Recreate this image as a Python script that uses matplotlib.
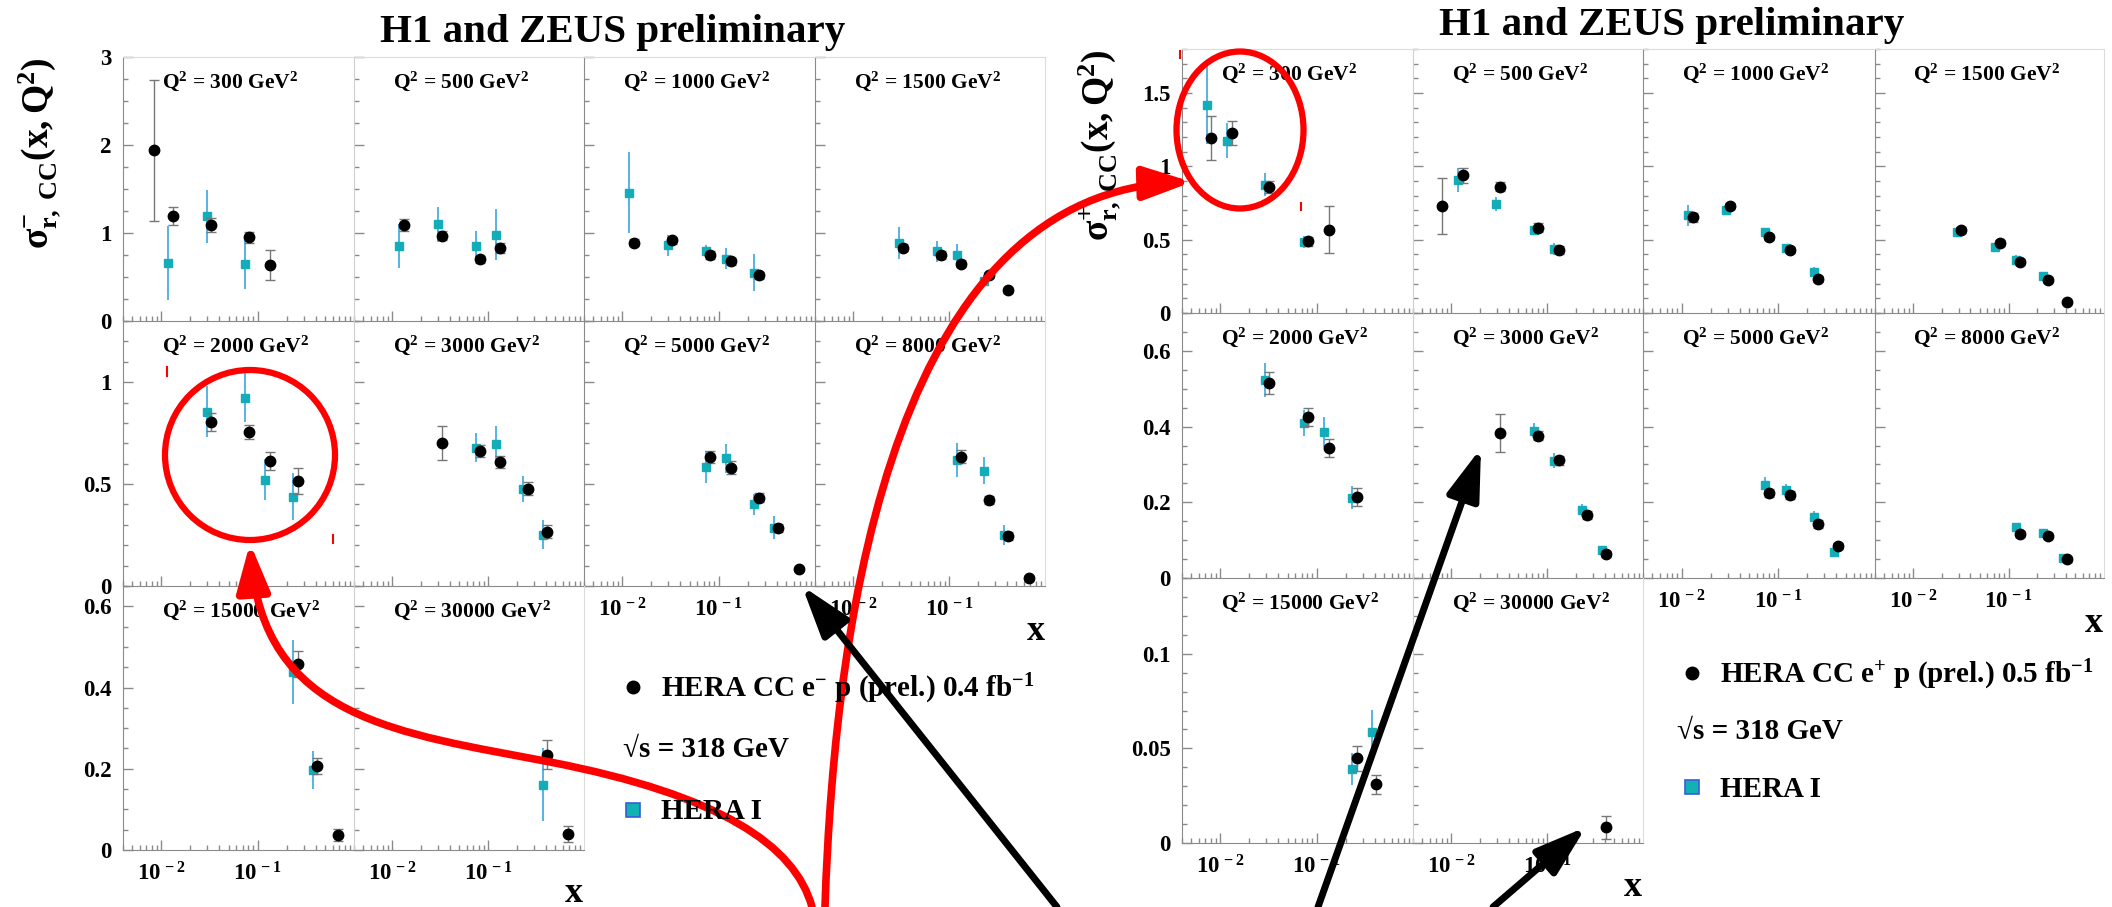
import numpy as np
import matplotlib
matplotlib.use('Agg')
import matplotlib.pyplot as plt
from matplotlib.patches import Ellipse, FancyArrowPatch, ArrowStyle
from matplotlib.path import Path
from matplotlib.ticker import MultipleLocator, FixedLocator, LogLocator, NullFormatter, FuncFormatter

W, H = 2112, 907

plt.rcParams['font.family'] = ['Liberation Serif', 'DejaVu Serif']
plt.rcParams['font.weight'] = 'bold'
plt.rcParams['mathtext.fontset'] = 'custom'
plt.rcParams['mathtext.rm'] = 'Liberation Serif:bold'
plt.rcParams['mathtext.bf'] = 'Liberation Serif:bold'
plt.rcParams['mathtext.it'] = 'Liberation Serif:italic:bold'
plt.rcParams['mathtext.default'] = 'rm'

q2_bins = [300, 500, 1000, 1500, 2000, 3000, 5000, 8000, 15000, 30000]

# e- p : HERA II preliminary (circles)
em_x = [[0.0083, 0.0133, 0.033, 0.082, 0.134],
        [0.0133, 0.033, 0.082, 0.134],
        [0.0133, 0.033, 0.082, 0.134, 0.26],
        [0.033, 0.082, 0.134, 0.26, 0.415],
        [0.033, 0.082, 0.134, 0.26],
        [0.033, 0.082, 0.134, 0.26, 0.415],
        [0.082, 0.134, 0.26, 0.415, 0.68],
        [0.134, 0.26, 0.415, 0.68],
        [0.26, 0.415, 0.68],
        [0.415, 0.68]]
em_sig = [[1.94, 1.19, 1.09, 0.95, 0.64],
          [1.09, 0.97, 0.70, 0.83],
          [0.89, 0.92, 0.75, 0.68, 0.52],
          [0.83, 0.75, 0.65, 0.52, 0.35],
          [0.805, 0.755, 0.612, 0.514],
          [0.70, 0.663, 0.61, 0.478, 0.267],
          [0.633, 0.581, 0.434, 0.285, 0.082],
          [0.635, 0.42, 0.245, 0.039],
          [0.459, 0.206, 0.036],
          [0.235, 0.040]]
em_err = [[0.80, 0.10, 0.08, 0.06, 0.17],
          [0.07, 0.05, 0.04, 0.06],
          [0.04, 0.04, 0.04, 0.04, 0.04],
          [0.04, 0.04, 0.04, 0.03, 0.03],
          [0.045, 0.035, 0.045, 0.065],
          [0.083, 0.03, 0.03, 0.03, 0.03],
          [0.03, 0.03, 0.02, 0.02, 0.01],
          [0.03, 0.02, 0.02, 0.01],
          [0.032, 0.02, 0.015],
          [0.035, 0.02]]

# e- p : HERA I (squares)
em1_x = [[0.0118, 0.0297, 0.074],
         [0.0118, 0.0297, 0.074, 0.12],
         [0.0118, 0.0297, 0.074, 0.12, 0.233],
         [0.0297, 0.074, 0.12, 0.233],
         [0.0297, 0.074, 0.12, 0.233],
         [0.074, 0.12, 0.233, 0.373],
         [0.074, 0.12, 0.233, 0.373],
         [0.12, 0.233, 0.373],
         [0.233, 0.373],
         [0.373]]
em1_sig = [[0.66, 1.19, 0.65],
           [0.85, 1.10, 0.85, 0.98],
           [1.46, 0.86, 0.80, 0.71, 0.55],
           [0.89, 0.79, 0.75, 0.46],
           [0.854, 0.923, 0.522, 0.439],
           [0.679, 0.699, 0.476, 0.252],
           [0.583, 0.627, 0.40, 0.285],
           [0.619, 0.566, 0.25],
           [0.438, 0.197],
           [0.161]]
em1_err = [[0.42, 0.30, 0.29],
           [0.25, 0.20, 0.17, 0.29],
           [0.46, 0.12, 0.06, 0.12, 0.21],
           [0.18, 0.12, 0.13, 0.06],
           [0.125, 0.12, 0.10, 0.115],
           [0.07, 0.085, 0.065, 0.072],
           [0.078, 0.072, 0.05, 0.056],
           [0.082, 0.066, 0.05],
           [0.078, 0.047],
           [0.089]]

# e+ p : HERA II preliminary (circles)
ep_x = [[0.008, 0.0132, 0.032, 0.081, 0.133],
        [0.008, 0.0132, 0.032, 0.081, 0.133],
        [0.0132, 0.032, 0.081, 0.133, 0.26],
        [0.032, 0.081, 0.133, 0.26, 0.41],
        [0.032, 0.081, 0.133, 0.26],
        [0.032, 0.081, 0.133, 0.26, 0.41],
        [0.081, 0.133, 0.26, 0.41],
        [0.133, 0.26, 0.41],
        [0.26, 0.41],
        [0.41]]
ep_sig = [[1.19, 1.227, 0.861, 0.489, 0.568],
          [0.732, 0.939, 0.861, 0.582, 0.43],
          [0.652, 0.73, 0.516, 0.432, 0.232],
          [0.566, 0.475, 0.345, 0.227, 0.073],
          [0.516, 0.425, 0.343, 0.215],
          [0.383, 0.376, 0.311, 0.166, 0.063],
          [0.224, 0.219, 0.142, 0.0835],
          [0.116, 0.11, 0.049],
          [0.0447, 0.031],
          [0.0082]]
ep_err = [[0.15, 0.08, 0.04, 0.03, 0.16],
          [0.19, 0.05, 0.03, 0.03, 0.03],
          [0.03, 0.02, 0.02, 0.02, 0.02],
          [0.02, 0.02, 0.02, 0.02, 0.01],
          [0.029, 0.023, 0.023, 0.024],
          [0.05, 0.012, 0.012, 0.01, 0.008],
          [0.01, 0.01, 0.01, 0.008],
          [0.008, 0.008, 0.006],
          [0.0067, 0.005],
          [0.006]]

# e+ p : HERA I (squares)
ep1_x = [[0.0072, 0.0118, 0.029, 0.073],
         [0.0118, 0.029, 0.073, 0.119],
         [0.0118, 0.029, 0.073, 0.119, 0.232],
         [0.029, 0.073, 0.119, 0.232],
         [0.029, 0.073, 0.119, 0.232],
         [0.073, 0.119, 0.232, 0.373],
         [0.073, 0.119, 0.232, 0.373],
         [0.119, 0.232, 0.373],
         [0.232, 0.373],
         []]
ep1_sig = [[1.42, 1.175, 0.875, 0.484],
           [0.907, 0.743, 0.564, 0.436],
           [0.666, 0.705, 0.55, 0.443, 0.277],
           [0.555, 0.45, 0.364, 0.25],
           [0.523, 0.409, 0.385, 0.212],
           [0.389, 0.31, 0.18, 0.075],
           [0.246, 0.233, 0.162, 0.069],
           [0.134, 0.119, 0.053],
           [0.039, 0.0586],
           []]
ep1_err = [[0.27, 0.12, 0.08, 0.04],
           [0.08, 0.05, 0.03, 0.04],
           [0.07, 0.03, 0.03, 0.03, 0.04],
           [0.03, 0.03, 0.03, 0.03],
           [0.044, 0.035, 0.04, 0.03],
           [0.02, 0.02, 0.015, 0.01],
           [0.02, 0.015, 0.015, 0.01],
           [0.01, 0.01, 0.008],
           [0.0083, 0.0115],
           []]

fig = plt.figure(figsize=(W / 100, H / 100), dpi=100)

xlab = {0.01: r'$10^{\,-2}$', 0.1: r'$10^{\,-1}$'}


def make_grid(xe, ye, ytop, ymaj, ymin, bx, by, be, cx, cy, ce):
    for i, q2 in enumerate(q2_bins):
        r, c = divmod(i, 4)
        x0, x1 = xe[c], xe[c + 1]
        y0, y1 = ye[r], ye[r + 1]
        ax = fig.add_axes([x0 / W, 1 - y1 / H, (x1 - x0) / W, (y1 - y0) / H])
        ax.set_xscale('log')
        ax.set_xlim(0.004, 1)
        ax.set_ylim(0, ytop[r])
        ax.patch.set_alpha(0)

        ax.xaxis.set_major_locator(FixedLocator([0.01, 0.1]))
        ax.xaxis.set_minor_locator(LogLocator(base=10, subs=np.arange(2, 10)))
        ax.xaxis.set_major_formatter(FuncFormatter(lambda v, p: xlab.get(round(v, 3), '')))
        ax.xaxis.set_minor_formatter(NullFormatter())
        ax.yaxis.set_major_locator(MultipleLocator(ymaj[r]))
        ax.yaxis.set_minor_locator(MultipleLocator(ymin[r]))
        ax.yaxis.set_major_formatter(FuncFormatter(lambda v, p: '%g' % round(v, 3)))

        bottom_cell = (r == 2) or (r == 1 and c >= 2)
        ax.tick_params(which='both', direction='in', color='#8a8a8a', width=1,
                       top=False, right=False, labelsize=16.5,
                       labelbottom=bottom_cell, labelleft=(c == 0))
        ax.tick_params(which='major', length=7)
        ax.tick_params(which='minor', length=3.5)
        ax.tick_params(axis='y', pad=8)
        ax.tick_params(axis='x', pad=9)

        ax.spines['left'].set_color('#cfcfcf' if c == 1 else '#8a8a8a')
        ax.spines['bottom'].set_color('#8a8a8a')
        ax.spines['top'].set_visible(r == 0)
        ax.spines['top'].set_color('#dcdcdc')
        ax.spines['right'].set_visible(c == 3 or (r == 2 and c == 1))
        ax.spines['right'].set_color('#dcdcdc')

        ax.text(0.168, 1 - 31 / (y1 - y0), 'Q$^{2}$ = %d GeV$^{2}$' % q2,
                transform=ax.transAxes, ha='left', va='baseline', fontsize=15.5)

        if len(cx[i]):
            ax.errorbar(cx[i], cy[i], yerr=ce[i], fmt='s', ms=5.5, mfc='#12adb8',
                        mec='#12adb8', ecolor='#4aaee0', elinewidth=1.3, capsize=0, zorder=3)
        ax.errorbar(bx[i], by[i], yerr=be[i], fmt='o', ms=7.5, color='black',
                    ecolor='#777777', elinewidth=1, capsize=3.5, capthick=1, zorder=4)


make_grid([123, 354, 584, 815, 1045], [57, 321, 586, 850],
          [3.0, 1.3, 0.65], [1, 0.5, 0.2], [0.25, 0.1, 0.05],
          em_x, em_sig, em_err, em1_x, em1_sig, em1_err)
make_grid([1182, 1413, 1643, 1875, 2104], [49, 313, 578, 843],
          [1.8, 0.7, 0.14], [0.5, 0.2, 0.05], [0.1, 0.05, 0.01],
          ep_x, ep_sig, ep_err, ep1_x, ep1_sig, ep1_err)

# overlay in pixel coordinates for titles, legends and annotations
ov = fig.add_axes([0, 0, 1, 1], zorder=10)
ov.set_xlim(0, W)
ov.set_ylim(H, 0)
ov.axis('off')
ov.patch.set_alpha(0)

ov.text(613, 42, 'H1 and ZEUS preliminary', ha='center', va='baseline', fontsize=29.5)
ov.text(1672, 35, 'H1 and ZEUS preliminary', ha='center', va='baseline', fontsize=29.5)
ov.text(40, 153, r'$σ^{-}_{r,\ CC}(x,Q^{2})$', rotation=90, ha='center', va='center', fontsize=27)
ov.text(1100, 145, r'$σ^{+}_{r,\ CC}(x,Q^{2})$', rotation=90, ha='center', va='center', fontsize=27)

for (xx, yy) in [(1036, 631), (574, 893), (2094, 624), (1633, 887)]:
    ov.text(xx, yy, 'x', ha='center', va='center', fontsize=26)

# legends
ov.plot([633], [687], 'o', ms=9, color='black')
ov.text(661, 697, r'HERA CC e$^{-}$ p (prel.) 0.4 fb$^{-1}$', va='baseline', fontsize=21)
ov.text(623, 757, '√s = 318 GeV', va='baseline', fontsize=21)
ov.plot([633], [810], 's', ms=10, mfc='#10b2b2', mec='#3a5adf', mew=1.2)
ov.text(661, 819, 'HERA I', va='baseline', fontsize=21)

ov.plot([1692], [673], 'o', ms=9, color='black')
ov.text(1720, 683, r'HERA CC e$^{+}$ p (prel.) 0.5 fb$^{-1}$', va='baseline', fontsize=21)
ov.text(1677, 739, '√s = 318 GeV', va='baseline', fontsize=21)
ov.plot([1692], [787], 's', ms=10, mfc='#10b2b2', mec='#3a5adf', mew=1.2)
ov.text(1720, 797, 'HERA I', va='baseline', fontsize=21)

# red highlight rings
ov.add_patch(Ellipse((250, 455), 170, 170, fill=False, ec='red', lw=4.5))
ov.add_patch(Ellipse((1240, 130), 127, 157, fill=False, ec='red', lw=4.5))
for (xx, ya, yb) in [(167, 367, 376), (333, 535, 543), (1180, 51, 58), (1301, 203, 210)]:
    ov.plot([xx, xx], [ya, yb], color='red', lw=1.5)

red_head = ArrowStyle('-|>', head_length=29, head_width=10)
C4 = Path.CURVE4
p1 = Path([(812, 907), (795, 845), (720, 795), (550, 762),
           (400, 733), (262, 720), (250, 543)],
          [Path.MOVETO, C4, C4, C4, C4, C4, C4])
p2 = Path([(825, 907), (835, 600), (900, 190), (1192, 182)],
          [Path.MOVETO, C4, C4, C4])
for p in (p1, p2):
    ov.add_patch(FancyArrowPatch(path=p, arrowstyle=red_head, mutation_scale=1,
                                 lw=5.5, color='red', transform=ov.transData))

black_head = ArrowStyle('-|>', head_length=31, head_width=10)
for (a, b) in [((1057, 907), (802, 586)), ((1318, 907), (1481, 448)), ((1493, 907), (1586, 827))]:
    ov.add_patch(FancyArrowPatch(a, b, arrowstyle=black_head, mutation_scale=1,
                                 lw=5, color='black', shrinkA=0, shrinkB=0))

fig.savefig('out.png', dpi=100)
